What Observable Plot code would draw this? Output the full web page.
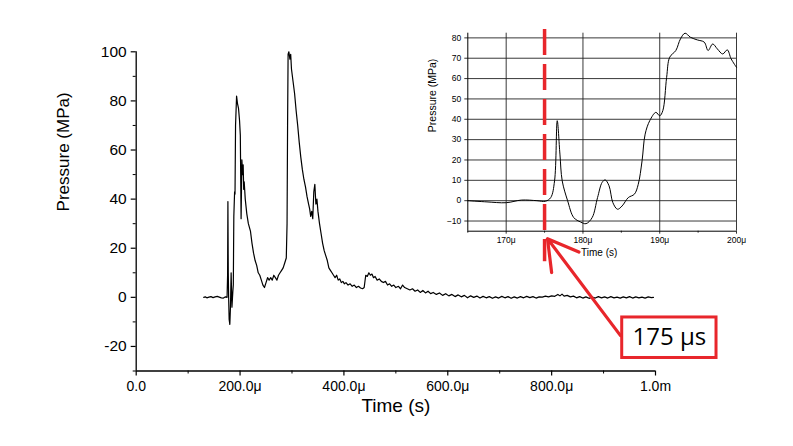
<!DOCTYPE html>
<html>
<head>
<meta charset="utf-8">
<script src="https://cdn.jsdelivr.net/npm/d3@7"></script>
<script src="https://cdn.jsdelivr.net/npm/@observablehq/plot@0.6"></script>
<style>
  html, body { margin: 0; padding: 0; background: #fff; }
  #wrap { position: relative; width: 793px; height: 446px; font-family: "Liberation Sans", Arial, sans-serif; }
  #wrap svg { position: absolute; left: 0; top: 0; overflow: visible; background: transparent; }
</style>
</head>
<body>
<div id="wrap"></div>
<script>
// ---- Main trace: time (µs) and pressure (MPa) ----
const mainTime = [130,133,136,140,144,148,152,156,160,164,168,172,175,176,176.6,177.3,178,179,180.3,181.5,182.8,184.4,186,187,188,189.5,190.3,191.3,193.3,195,197,199,200.5,202,203.5,205,206,207,208,210,213,216,220,223,226,229,232,235,238,241,244,247,250,253,256,259,262,265,268,271,274,277,280,283,286,289,290.5,291.5,292.5,294,296,297.5,299,302,305,308,311,314,317,320,323,326,329,332,334,336,338,340,342,344,346,348,350,353,356,359,362,365,368,371,374,377,380,383,386,389,392,395,398,401,404,408,412,416,420,424,428,432,436,439,442,445,448,451,454,457,460,464,468,472,476,480,484,488,492,496,500,505,509,513,517,522,527,532,537,542,547,552,557,562,567,572,578,584,590,596,602,608,614,620,626,632,638,644,650,656,662,668,674,680,686,692,698,704,710,716,722,728,734,740,746,752,758,764,770,776,782,788,794,800,806,812,816,820,824,830,836,842,848,854,860,866,872,878,884,890,896,902,908,914,920,926,932,938,944,950,956,962,968,974,980,986,992,996];
const mainPressure = [0,0.2,-0.2,0.1,0.3,-0.1,0.2,0.4,0.1,-0.2,-0.3,0.2,0,9,39,10,0,-9,-11,-4,10,-4,2,5,33,43,42,70,82,79,77,72,66,32,56,50,54,44,47,40,34,30,27,22,18,15,13,10,9,7,5,4,6,8,7,8,7,9,8,7,9,10,11,12,14,16,30,70,99,100,97,99,93,88,83,76,70,63,57,52,48,45,41,38,36,33,35,32,43,46,38,40,35,30,26,22,19,17,15,12,11,10,9,8,9,7,7.5,6,6.5,5.5,6,5,5.5,4.5,5,4,4.5,3.8,3.5,4,9,8.5,10,9,9.5,8,8.5,7,7.5,6.5,6,6.5,5,5.5,4.5,5,4,4.5,3.5,5,4,3.5,3,3.5,2.5,3,2,2.8,1.8,2.5,1.5,2,1.2,1.8,0.8,1.5,0.6,1.2,0.3,1,0.2,0.8,-0.2,0.6,0,0.5,-0.3,0.4,-0.2,0.3,-0.4,0.2,-0.3,0.4,-0.2,0.3,-0.4,0.2,-0.3,0.3,-0.2,0.4,-0.1,0.3,-0.3,0.2,0.1,0.5,0.2,0.6,0.4,1.2,0.6,1.3,0.5,0.8,0.2,0.5,-0.2,0.3,-0.3,0.2,-0.4,0.1,-0.3,0.3,-0.2,0.2,-0.3,0.3,-0.2,0.1,-0.3,0.2,-0.2,0.3,-0.3,0.2,-0.2,0.1,-0.3,0.2,-0.1,0];

// ---- Inset (zoom 165–200 µs) ----
const insetTime = [165,167.5,170,172,174,175.1,175.8,176.3,176.65,177,177.3,178,178.8,179.7,180.4,181.2,181.9,182.5,182.9,183.4,183.9,184.5,185.1,185.9,186.7,187.2,187.7,188.1,188.7,189.5,190,190.4,190.9,191.3,192.1,192.7,193.3,194,194.9,195.8,196.3,196.9,197.5,198.2,198.8,199.3,200];
const insetPressure = [0,-0.6,-1,0.3,0,-0.3,1.5,9.7,39.3,22.9,9.7,0,-8.3,-10.5,-11.3,-8.3,1.5,9,10.2,7.3,-1,-4.2,-2.6,1.5,3.2,8,19.6,32.7,39.3,43.4,41.7,44.2,60.6,70.5,73.8,79.5,82.3,80.3,79,77.9,73.8,77,74.6,72.1,74.1,69.7,65.5];

// ---- Tick labels ----
const xTicks = [0,200,400,600,800,1000];
const xTickLabels = ["0.0","200.0μ","400.0μ","600.0μ","800.0μ","1.0m"];
const xMinor = [100,300,500,700,900];
const yTicks = [-20,0,20,40,60,80,100];
const yMinor = [-30,-10,10,30,50,70,90];
const insetXTicks = [170,180,190,200];
const insetXTickLabels = ["170μ","180μ","190μ","200μ"];
const insetXMinor = [165,175,185,195];
const insetYTicks = [-10,0,10,20,30,40,50,60,70,80];

// ---- Annotation ----
const markerTime = 175;           // inset time marked by the dashed line
const labelText = "175 μs";

const mainData = mainTime.map((t,i) => ({t, p: mainPressure[i]}));
const insetData = insetTime.map((t,i) => ({t, p: insetPressure[i]}));
const RED = "#e8262b";
const FONT = "Liberation Sans, Arial, sans-serif";

const main = Plot.plot({
  width: 793, height: 446,
  marginLeft: 135.7, marginRight: 138, marginTop: 51.3, marginBottom: 75.5,
  style: {fontFamily: FONT, color: "#000", background: "transparent"},
  x: {domain: [0, 1000]},
  y: {domain: [-30, 100]},
  marks: [
    Plot.ruleX([0], {y1: -30, y2: 100, stroke: "#000", strokeWidth: 1.3}),
    Plot.ruleY([-30], {x1: 0, x2: 1000, stroke: "#000", strokeWidth: 1.3}),
    Plot.axisY(yTicks, {tickSize: 5, tickPadding: 4.5, fontSize: 15.5, label: null, tickFormat: d => String(d).replace("-", "-"), strokeWidth: 1.2}),
    Plot.axisY(yMinor, {tickSize: 3, tickFormat: () => "", label: null, strokeWidth: 1}),
    Plot.axisX(xTicks, {tickSize: 5, tickPadding: 5, fontSize: 14, label: null, tickFormat: d => xTickLabels[xTicks.indexOf(d)], strokeWidth: 1.2}),
    Plot.axisX(xMinor, {tickSize: 3, tickFormat: () => "", label: null, strokeWidth: 1}),
    Plot.text(["Time (s)"], {frameAnchor: "bottom", dy: 41, fontSize: 19, fill: "#000"}),
    Plot.text(["Pressure (MPa)"], {frameAnchor: "left", dx: -72.7, rotate: -90, fontSize: 17, fill: "#000"}),
    Plot.line(mainData, {x: "t", y: "p", stroke: "#000", strokeWidth: 1.2}),
    Plot.arrow([{x1: 932.6, y1: -15.6, x2: 792, y2: 23.9}], {x1: "x1", y1: "y1", x2: "x2", y2: "y2", stroke: RED, strokeWidth: 3.2, headLength: 16}),
    Plot.rect([{x1: 935.9, x2: 1117.5, y1: -24.7, y2: -8.2}], {x1: "x1", x2: "x2", y1: "y1", y2: "y2", fill: "#fff", stroke: RED, strokeWidth: 3}),
    Plot.text([labelText], {x: 1026.7, y: -16.45, fontSize: 24, fill: "#000", fontFamily: "Open Sans, Noto Sans, sans-serif"})
  ]
});

const inset = Plot.plot({
  width: 793, height: 446,
  marginLeft: 467.3, marginRight: 57, marginTop: 32.7, marginBottom: 215.3,
  style: {fontFamily: FONT, color: "#000", background: "transparent"},
  x: {domain: [165, 200]},
  y: {domain: [-15, 82.3]},
  marks: [
    Plot.ruleY(insetYTicks, {x1: 165, x2: 200, stroke: "#222", strokeWidth: 0.9}),
    Plot.ruleX(insetXTicks, {y1: -15, y2: 82.3, stroke: "#222", strokeWidth: 0.9}),
    Plot.ruleX([165], {y1: -15, y2: 82.3, stroke: "#000", strokeWidth: 1}),
    Plot.ruleY([-15], {x1: 165, x2: 200, stroke: "#000", strokeWidth: 1}),
    Plot.axisY(insetYTicks, {tickSize: 3, tickPadding: 3.5, fontSize: 8.5, label: null, strokeWidth: 0.8}),
    Plot.axisX(insetXTicks, {tickSize: 3, tickPadding: 2.5, fontSize: 8.5, label: null, tickFormat: d => insetXTickLabels[insetXTicks.indexOf(d)], strokeWidth: 0.8}),
    Plot.axisX(insetXMinor, {tickSize: 2, tickFormat: () => "", label: null, strokeWidth: 0.8}),
    Plot.text(["Time (s)"], {frameAnchor: "bottom", dy: 24.3, dx: -3, fontSize: 10, fill: "#000"}),
    Plot.text(["Pressure (MPa)"], {frameAnchor: "left", dx: -35.6, rotate: -90, fontSize: 10.5, fill: "#000"}),
    Plot.line(insetData, {x: "t", y: "p", stroke: "#000", strokeWidth: 1, curve: "catmull-rom"}),
    Plot.ruleX([markerTime], {y1: 84.1, y2: -30, stroke: RED, strokeWidth: 3.5, strokeDasharray: "26,9"})
  ]
});

const wrap = document.getElementById("wrap");
wrap.appendChild(main);
wrap.appendChild(inset);
</script>
</body>
</html>
